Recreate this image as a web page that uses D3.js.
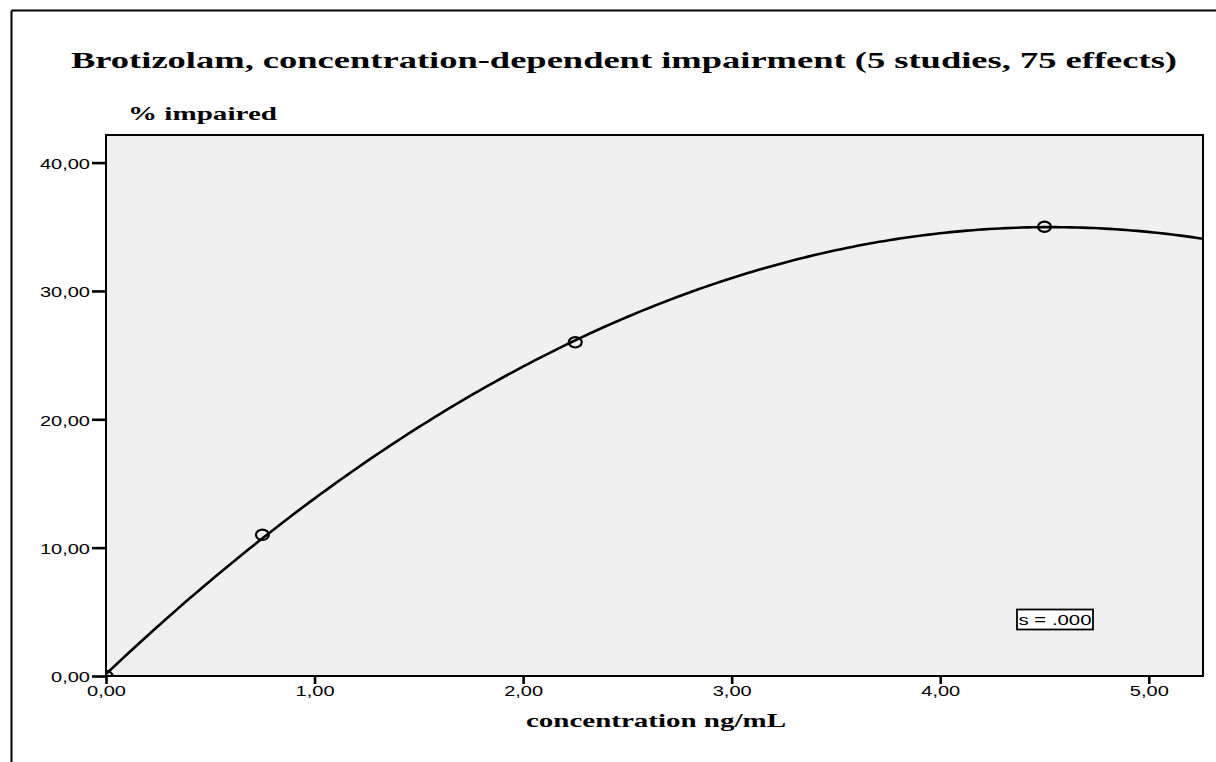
<!DOCTYPE html>
<html>
<head>
<meta charset="utf-8">
<script src="https://cdn.jsdelivr.net/npm/d3@7"></script>
<style>
  html, body { margin: 0; padding: 0; background: #fff; }
  svg { display: block; }
</style>
</head>
<body>
<svg id="chart" width="1216" height="762"></svg>
<script>
// ---- data ----
const concentration = [0, 0.75, 2.25, 4.5];
const impaired = [0, 11, 26, 35];
const xTicks = [0, 1, 2, 3, 4, 5];
const yTicks = [0, 10, 20, 30, 40];
const xDomain = [0, 5.26];
const yDomain = [0, 42.15];
const titleText = "Brotizolam, concentration-dependent impairment (5 studies, 75 effects)";
const yLabelText = "% impaired";
const xLabelText = "concentration ng/mL";
const fitLabel = "s = .000";

// ---- quadratic least-squares fit from the data ----
function quadFit(xs, ys) {
  const n = xs.length;
  let S = [0, 0, 0, 0, 0], T = [0, 0, 0];
  for (let i = 0; i < n; i++) {
    for (let k = 0; k < 5; k++) S[k] += Math.pow(xs[i], k);
    for (let k = 0; k < 3; k++) T[k] += ys[i] * Math.pow(xs[i], k);
  }
  const M = [[S[0], S[1], S[2], T[0]], [S[1], S[2], S[3], T[1]], [S[2], S[3], S[4], T[2]]];
  for (let i = 0; i < 3; i++) {
    for (let j = i + 1; j < 3; j++) {
      const f = M[j][i] / M[i][i];
      for (let k = i; k < 4; k++) M[j][k] -= f * M[i][k];
    }
  }
  const c = [0, 0, 0];
  for (let i = 2; i >= 0; i--) {
    let s = M[i][3];
    for (let k = i + 1; k < 3; k++) s -= M[i][k] * c[k];
    c[i] = s / M[i][i];
  }
  return x => c[0] + c[1] * x + c[2] * x * x;
}
const fit = quadFit(concentration, impaired);

// ---- layout ----
const svg = d3.select("#chart");
const plot = { left: 106, top: 135, right: 1203, bottom: 676 };
const x = d3.scaleLinear().domain(xDomain).range([plot.left, plot.right]);
const y = d3.scaleLinear().domain(yDomain).range([plot.bottom, plot.top]);
const fmt = v => d3.format(".2f")(v).replace(".", ",");

function stretch(sel, factor) {
  sel.each(function () {
    const w = this.getComputedTextLength();
    d3.select(this).attr("textLength", w * factor).attr("lengthAdjust", "spacingAndGlyphs");
  });
}
function fitTo(sel, width) {
  sel.attr("textLength", width).attr("lengthAdjust", "spacingAndGlyphs");
}

// outer frame lines
svg.append("line").attr("x1", 11.5).attr("y1", 10.5).attr("x2", 1216).attr("y2", 10.5)
  .attr("stroke", "#000").attr("stroke-width", 2);
svg.append("line").attr("x1", 11.5).attr("y1", 10.5).attr("x2", 11.5).attr("y2", 762)
  .attr("stroke", "#000").attr("stroke-width", 2);

// title
svg.append("text").attr("x", 71).attr("y", 68)
  .attr("font-family", "Liberation Serif, Times New Roman, serif")
  .attr("font-weight", "bold").attr("font-size", 24)
  .text(titleText).call(fitTo, 1106);

// y label
svg.append("text").attr("x", 128).attr("y", 120)
  .attr("font-family", "Liberation Serif, Times New Roman, serif")
  .attr("font-weight", "bold").attr("font-size", 19)
  .text(yLabelText).call(fitTo, 149);

// x label
svg.append("text").attr("x", 526).attr("y", 727)
  .attr("font-family", "Liberation Serif, Times New Roman, serif")
  .attr("font-weight", "bold").attr("font-size", 19)
  .text(xLabelText).call(fitTo, 260);

// plot background
svg.append("rect").attr("x", plot.left).attr("y", plot.top)
  .attr("width", plot.right - plot.left).attr("height", plot.bottom - plot.top)
  .attr("fill", "#f0f0f0");

svg.append("clipPath").attr("id", "clip").append("rect")
  .attr("x", plot.left).attr("y", plot.top)
  .attr("width", plot.right - plot.left).attr("height", plot.bottom - plot.top);

// axes
const yAxis = svg.append("g").attr("transform", `translate(${plot.left},0)`)
  .call(d3.axisLeft(y).tickValues(yTicks).tickFormat(fmt).tickSize(14).tickSizeOuter(0));
yAxis.select(".domain").remove();
yAxis.selectAll(".tick line").attr("stroke", "#000").attr("stroke-width", 2.6);
yAxis.selectAll(".tick text").attr("x", -16).attr("dy", "0.4em")
  .attr("font-family", "Liberation Sans, Arial, sans-serif").attr("font-size", 14.5).attr("fill", "#000")
  .call(stretch, 1.38);

const xAxis = svg.append("g").attr("transform", `translate(0,${plot.bottom})`)
  .call(d3.axisBottom(x).tickValues(xTicks).tickFormat(fmt).tickSize(8).tickSizeOuter(0));
xAxis.select(".domain").remove();
xAxis.selectAll(".tick line").attr("stroke", "#000").attr("stroke-width", 2.6);
xAxis.selectAll(".tick text").attr("y", 10).attr("dy", "0.71em")
  .attr("font-family", "Liberation Sans, Arial, sans-serif").attr("font-size", 14.5).attr("fill", "#000")
  .call(stretch, 1.38);

// plot border
svg.append("rect").attr("x", plot.left).attr("y", plot.top)
  .attr("width", plot.right - plot.left).attr("height", plot.bottom - plot.top)
  .attr("fill", "none").attr("stroke", "#000").attr("stroke-width", 2);

// fit curve
const g = svg.append("g").attr("clip-path", "url(#clip)");
const samples = d3.range(0, 201).map(i => xDomain[0] + (xDomain[1] - xDomain[0]) * i / 200);
g.append("path")
  .datum(samples)
  .attr("d", d3.line().x(d => x(d)).y(d => y(fit(d))))
  .attr("fill", "none").attr("stroke", "#000").attr("stroke-width", 2.6);

// data markers
g.selectAll("ellipse.pt").data(concentration).join("ellipse")
  .attr("class", "pt")
  .attr("cx", d => x(d)).attr("cy", (d, i) => y(impaired[i]))
  .attr("rx", 6.5).attr("ry", 5.2)
  .attr("fill", "none").attr("stroke", "#000").attr("stroke-width", 2.2);

// fit annotation box
const bx = 1017, by = 609.5;
svg.append("rect").attr("x", bx).attr("y", by).attr("width", 76).attr("height", 20)
  .attr("fill", "#fff").attr("stroke", "#000").attr("stroke-width", 1.8);
svg.append("text").attr("x", bx + 1.5).attr("y", by + 15.5)
  .attr("font-family", "Liberation Sans, Arial, sans-serif").attr("font-size", 14.5)
  .text(fitLabel).call(fitTo, 73);
</script>
</body>
</html>
